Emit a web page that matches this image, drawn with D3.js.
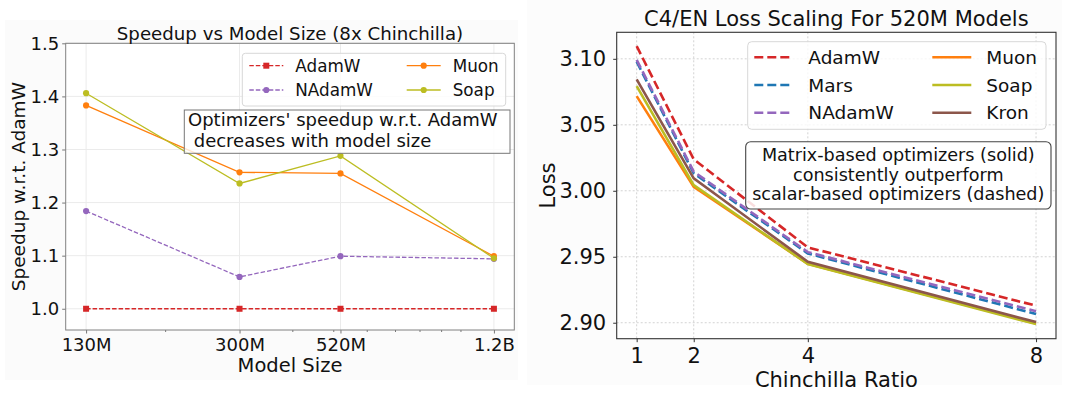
<!DOCTYPE html>
<html>
<head>
<meta charset="utf-8">
<script src="https://cdn.jsdelivr.net/npm/d3@7"></script>
<style>
  body { margin: 0; background: #fff; }
  svg { display: block; font-family: "DejaVu Sans", sans-serif; }
  text { white-space: pre; }
</style>
</head>
<body>
<svg id="chart" width="1080" height="394"></svg>
<script>
// ---- left panel data: speedup vs model size ----
var sizeLabels = ["130M", "300M", "520M", "1.2B"];
var sizeValues = [130e6, 300e6, 520e6, 1.2e9];
var speedAdamW  = [1.0, 1.0, 1.0, 1.0];
var speedNAdamW = [1.184, 1.060, 1.099, 1.094];
var speedMuon   = [1.383, 1.257, 1.255, 1.099];
var speedSoap   = [1.406, 1.236, 1.288, 1.095];
var speedTicks  = [1.0, 1.1, 1.2, 1.3, 1.4, 1.5];
var minorSizes  = [2e8, 4e8, 5e8, 6e8, 7e8, 8e8, 9e8, 1e9];

// ---- right panel data: loss vs chinchilla ratio ----
var ratios = [1, 2, 4, 8];
var lossAdamW  = [3.1096, 3.0238, 2.9571, 2.9129];
var lossMars   = [3.0978, 3.0132, 2.9525, 2.9066];
var lossNAdamW = [3.0992, 3.0145, 2.9535, 2.9087];
var lossMuon   = [3.0717, 3.0030, 2.9447, 2.8995];
var lossSoap   = [3.0793, 3.0043, 2.9445, 2.8990];
var lossKron   = [3.0844, 3.0094, 2.9462, 2.9005];
var lossTicks  = [2.90, 2.95, 3.00, 3.05, 3.10];

var svg = d3.select("#chart");

// faint backgrounds of the two source figures
svg.append("rect").attr("x", 5).attr("y", 20).attr("width", 513).attr("height", 360).attr("fill", "#fbfbfb");
svg.append("rect").attr("x", 527).attr("y", 0).attr("width", 535).attr("height", 385).attr("fill", "#fcfcfc");

// ================= LEFT =================
var L = { left: 65.7, right: 514.3, top: 43.3, bottom: 330 };
var pad = Math.pow(1.2e9 / 130e6, 0.05);
var xL = d3.scaleLog().domain([130e6 / pad, 1.2e9 * pad]).range([L.left, L.right]);
var yL = d3.scaleLinear().domain([0.96, 1.5]).range([L.bottom, L.top]);

var gl = svg.append("g");
gl.append("rect").attr("x", L.left).attr("y", L.top)
    .attr("width", L.right - L.left).attr("height", L.bottom - L.top).attr("fill", "#fff");

// grid
gl.selectAll("line.gy").data(speedTicks).enter().append("line")
    .attr("x1", L.left).attr("x2", L.right)
    .attr("y1", d => yL(d)).attr("y2", d => yL(d))
    .attr("stroke", "#ebebeb").attr("stroke-width", 1);
gl.selectAll("line.gx").data(sizeValues).enter().append("line")
    .attr("x1", d => xL(d)).attr("x2", d => xL(d))
    .attr("y1", L.top).attr("y2", L.bottom)
    .attr("stroke", "#ebebeb").attr("stroke-width", 1);

var leftSeries = [
    { name: "AdamW",  vals: speedAdamW,  color: "#d62728", dash: "4.5,2", marker: "square" },
    { name: "NAdamW", vals: speedNAdamW, color: "#9467bd", dash: "4.5,2", marker: "circle" },
    { name: "Muon",   vals: speedMuon,   color: "#ff7f0e", dash: null,    marker: "circle" },
    { name: "Soap",   vals: speedSoap,   color: "#bcbd22", dash: null,    marker: "circle" }
];

var lineL = d3.line().x((d, i) => xL(sizeValues[i])).y(d => yL(d));

function drawMarker(g, type, x, y, color) {
    if (type === "square")
        g.append("rect").attr("x", x - 3).attr("y", y - 3).attr("width", 6).attr("height", 6).attr("fill", color);
    else
        g.append("circle").attr("cx", x).attr("cy", y).attr("r", 3.1).attr("fill", color);
}

leftSeries.forEach(function (s) {
    gl.append("path").attr("d", lineL(s.vals))
        .attr("fill", "none").attr("stroke", s.color).attr("stroke-width", 1.3)
        .attr("stroke-dasharray", s.dash);
    s.vals.forEach(function (v, i) {
        drawMarker(gl, s.marker, xL(sizeValues[i]), yL(v), s.color);
    });
});

// axes
var axL = gl.append("g").attr("transform", "translate(" + L.left + ",0)")
    .call(d3.axisLeft(yL).tickValues(speedTicks).tickFormat(d3.format(".1f")).tickSize(3.5).tickPadding(3));
var axB = gl.append("g").attr("transform", "translate(0," + L.bottom + ")")
    .call(d3.axisBottom(xL).tickValues(sizeValues).tickFormat((d, i) => sizeLabels[i]).tickSize(3.5).tickPadding(5));
gl.append("g").attr("transform", "translate(0," + L.bottom + ")")
    .call(d3.axisBottom(xL).tickValues(minorSizes).tickFormat("").tickSize(2))
    .call(g => g.select(".domain").remove())
    .selectAll("line").attr("stroke", "#777");
[axL, axB].forEach(function (a) {
    a.select(".domain").remove();
    a.selectAll("line").attr("stroke", "#777");
    a.selectAll("text").attr("font-size", 18).attr("fill", "#111").attr("font-family", "DejaVu Sans");
});
gl.append("rect").attr("x", L.left).attr("y", L.top)
    .attr("width", L.right - L.left).attr("height", L.bottom - L.top)
    .attr("fill", "none").attr("stroke", "#808080").attr("stroke-width", 1);

gl.append("text").attr("x", (L.left + L.right) / 2).attr("y", 40)
    .attr("text-anchor", "middle").attr("font-size", 18.2).attr("fill", "#111")
    .text("Speedup vs Model Size (8x Chinchilla)");
gl.append("text").attr("x", (L.left + L.right) / 2).attr("y", 371.7)
    .attr("text-anchor", "middle").attr("font-size", 19.5).attr("fill", "#111")
    .text("Model Size");
gl.append("text").attr("transform", "translate(25," + (L.top + L.bottom) / 2 + ") rotate(-90)")
    .attr("text-anchor", "middle").attr("font-size", 18.5).attr("fill", "#111")
    .text("Speedup w.r.t. AdamW");

// legend
var lgL = gl.append("g");
lgL.append("rect").attr("x", 242.3).attr("y", 53.3).attr("width", 263.4).attr("height", 52.7)
    .attr("rx", 3).attr("fill", "#fff").attr("fill-opacity", 0.8).attr("stroke", "#d8d8d8");
var legPosL = [[249.3, 65.7], [249.3, 90], [406.7, 65.7], [406.7, 90]];
leftSeries.forEach(function (s, i) {
    var p = legPosL[i];
    lgL.append("line").attr("x1", p[0]).attr("x2", p[0] + 34).attr("y1", p[1]).attr("y2", p[1])
        .attr("stroke", s.color).attr("stroke-width", 1.3).attr("stroke-dasharray", s.dash);
    drawMarker(lgL, s.marker, p[0] + 17, p[1], s.color);
    lgL.append("text").attr("x", p[0] + 46).attr("y", p[1]).attr("dy", "0.36em")
        .attr("font-size", 16.8).attr("fill", "#111").text(s.name);
});

// annotation
gl.append("rect").attr("x", 184.3).attr("y", 110).attr("width", 325.7).attr("height", 43.3)
    .attr("fill", "#fff").attr("fill-opacity", 0.8).attr("stroke", "#777").attr("stroke-width", 1);
gl.append("text").attr("x", 188).attr("y", 120).attr("dy", "0.36em")
    .attr("font-size", 18).attr("fill", "#111").text("Optimizers' speedup w.r.t. AdamW");
gl.append("text").attr("x", 188).attr("y", 140.7).attr("dy", "0.36em")
    .attr("font-size", 18).attr("fill", "#111").text(" decreases with model size");

// ================= RIGHT =================
var R = { left: 616.7, right: 1056, top: 32.3, bottom: 338.7 };
var xR = d3.scaleLinear().domain([0.65, 8.35]).range([R.left, R.right]);
var yR = d3.scaleLinear().domain([2.8879, 3.1201]).range([R.bottom, R.top]);

var gr = svg.append("g");
gr.append("rect").attr("x", R.left).attr("y", R.top)
    .attr("width", R.right - R.left).attr("height", R.bottom - R.top).attr("fill", "#fff");

gr.selectAll("line.gy").data(lossTicks).enter().append("line")
    .attr("x1", R.left).attr("x2", R.right)
    .attr("y1", d => yR(d)).attr("y2", d => yR(d))
    .attr("stroke", "#c8c8c8").attr("stroke-width", 0.8).attr("stroke-dasharray", "2,2");
gr.selectAll("line.gx").data(ratios).enter().append("line")
    .attr("x1", d => xR(d)).attr("x2", d => xR(d))
    .attr("y1", R.top).attr("y2", R.bottom)
    .attr("stroke", "#c8c8c8").attr("stroke-width", 0.8).attr("stroke-dasharray", "2,2");

var rightSeries = [
    { name: "AdamW",  vals: lossAdamW,  color: "#d62728", dash: "9,4" },
    { name: "Mars",   vals: lossMars,   color: "#1f77b4", dash: "9,4" },
    { name: "NAdamW", vals: lossNAdamW, color: "#9467bd", dash: "9,4" },
    { name: "Muon",   vals: lossMuon,   color: "#ff7f0e", dash: null },
    { name: "Soap",   vals: lossSoap,   color: "#bcbd22", dash: null },
    { name: "Kron",   vals: lossKron,   color: "#8c564b", dash: null }
];
var lineR = d3.line().x((d, i) => xR(ratios[i])).y(d => yR(d));

rightSeries.forEach(function (s) {
    gr.append("path").attr("d", lineR(s.vals))
        .attr("fill", "none").attr("stroke", s.color).attr("stroke-width", 2.6)
        .attr("stroke-dasharray", s.dash);
});

var axRL = gr.append("g").attr("transform", "translate(" + R.left + ",0)")
    .call(d3.axisLeft(yR).tickValues(lossTicks).tickFormat(d3.format(".2f")).tickSize(3.5).tickPadding(7));
var axRB = gr.append("g").attr("transform", "translate(0," + R.bottom + ")")
    .call(d3.axisBottom(xR).tickValues(ratios).tickFormat(d3.format("d")).tickSize(3.5).tickPadding(6));
[axRL, axRB].forEach(function (a) {
    a.select(".domain").remove();
    a.selectAll("line").attr("stroke", "#333");
    a.selectAll("text").attr("font-size", 21).attr("fill", "#111").attr("font-family", "DejaVu Sans");
});
gr.append("rect").attr("x", R.left).attr("y", R.top)
    .attr("width", R.right - R.left).attr("height", R.bottom - R.top)
    .attr("fill", "none").attr("stroke", "#333").attr("stroke-width", 1.1);

gr.append("text").attr("x", (R.left + R.right) / 2).attr("y", 26)
    .attr("text-anchor", "middle").attr("font-size", 21).attr("fill", "#111")
    .text("C4/EN Loss Scaling For 520M Models");
gr.append("text").attr("x", (R.left + R.right) / 2).attr("y", 386.7)
    .attr("text-anchor", "middle").attr("font-size", 21).attr("fill", "#111")
    .text("Chinchilla Ratio");
gr.append("text").attr("transform", "translate(555," + (R.top + R.bottom) / 2 + ") rotate(-90)")
    .attr("text-anchor", "middle").attr("font-size", 21).attr("fill", "#111")
    .text("Loss");

// legend
var lgR = gr.append("g");
lgR.append("rect").attr("x", 747.7).attr("y", 41.7).attr("width", 298.3).attr("height", 87.6)
    .attr("rx", 4).attr("fill", "#fff").attr("fill-opacity", 0.8).attr("stroke", "#d8d8d8");
var legPosR = [[754.3, 57.3], [754.3, 85], [754.3, 112.7], [932.3, 57.3], [932.3, 85], [932.3, 112.7]];
rightSeries.forEach(function (s, i) {
    var p = legPosR[i];
    lgR.append("line").attr("x1", p[0]).attr("x2", p[0] + 39).attr("y1", p[1]).attr("y2", p[1])
        .attr("stroke", s.color).attr("stroke-width", 2.6).attr("stroke-dasharray", s.dash);
    lgR.append("text").attr("x", p[0] + 54).attr("y", p[1]).attr("dy", "0.36em")
        .attr("font-size", 18.5).attr("fill", "#111").text(s.name);
});

// annotation
gr.append("rect").attr("x", 745.7).attr("y", 141.7).attr("width", 305.3).attr("height", 67.3)
    .attr("rx", 5).attr("fill", "#fff").attr("fill-opacity", 0.85).attr("stroke", "#444").attr("stroke-width", 1.1);
var noteR = ["Matrix-based optimizers (solid)", "consistently outperform", "scalar-based optimizers (dashed)"];
var noteY = [155, 174.5, 194];
noteR.forEach(function (t, i) {
    gr.append("text").attr("x", 898.3).attr("y", noteY[i]).attr("dy", "0.36em")
        .attr("text-anchor", "middle").attr("font-size", 17.6).attr("fill", "#111").text(t);
});
</script>
</body>
</html>
